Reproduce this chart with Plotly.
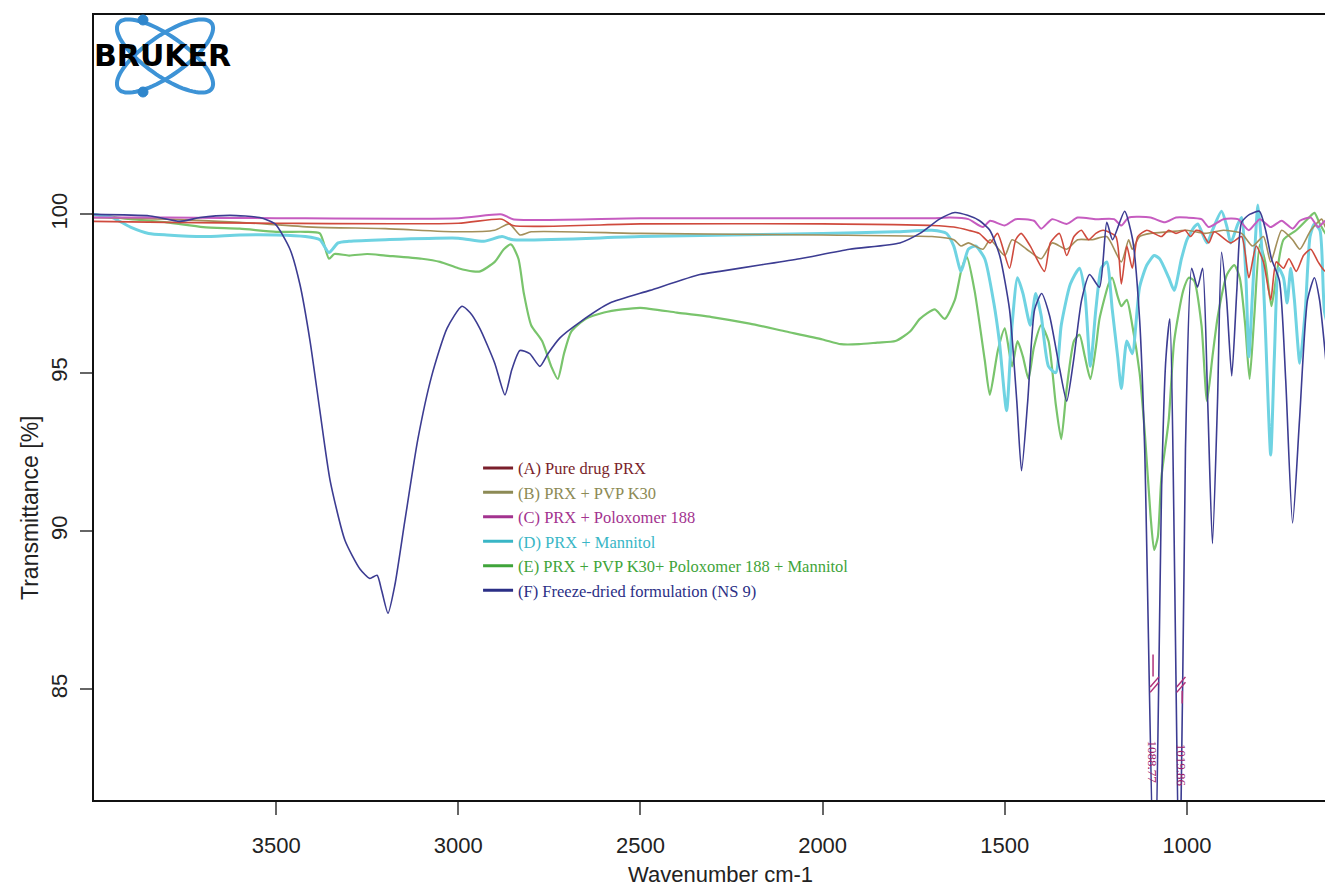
import numpy as np
import plotly.graph_objects as go

# ---------------- data (wavenumber cm-1, transmittance %) ----------------
wn_A = [4000, 3800, 3500, 3000, 2880, 2850, 2500, 2000, 1700, 1640, 1600, 1570, 1540, 1520, 1487, 1470, 1455, 1430, 1391, 1375, 1350, 1330, 1310, 1290, 1270, 1250, 1230, 1195, 1180, 1165, 1150, 1135, 1110, 1090, 1070, 1050, 1030, 1005, 990, 975, 960, 940, 925, 880, 850, 830, 810, 790, 770, 755, 735, 720, 700, 680, 660, 640, 620, 600]
T_A = [99.78, 99.75, 99.72, 99.72, 99.85, 99.65, 99.7, 99.7, 99.65, 99.6, 99.5, 99.4, 99.1, 99.4, 98.3, 99.2, 99.4, 99.0, 98.2, 99.1, 99.4, 98.7, 99.3, 99.5, 99.2, 99.4, 99.5, 99.3, 97.8, 99.0, 98.3, 99.3, 99.5, 99.4, 99.3, 99.5, 99.4, 99.5, 99.3, 99.5, 99.45, 99.1, 99.45, 99.1, 99.3, 98.0, 99.0, 98.5, 97.3, 98.5, 98.3, 98.6, 98.2, 98.7, 98.9, 98.5, 98.2, 98.4]

wn_B = [4000, 3800, 3600, 3400, 3200, 3000, 2900, 2860, 2830, 2800, 2500, 2000, 1700, 1640, 1620, 1600, 1560, 1540, 1500, 1480, 1440, 1400, 1370, 1330, 1300, 1260, 1220, 1180, 1160, 1150, 1130, 1100, 1050, 1000, 950, 900, 850, 820, 790, 770, 740, 710, 690, 660, 630, 620, 600]
T_B = [99.9, 99.85, 99.75, 99.6, 99.55, 99.45, 99.5, 99.7, 99.35, 99.45, 99.4, 99.35, 99.3, 99.2, 99.0, 99.1, 98.9, 99.2, 98.7, 99.2, 98.9, 98.6, 99.1, 98.9, 99.2, 99.2, 99.3, 98.5, 99.2, 98.9, 99.3, 99.4, 99.45, 99.5, 99.4, 99.5, 99.4, 99.0, 99.3, 98.5, 99.5, 99.2, 98.9, 99.5, 99.85, 99.6, 99.4]

wn_C = [4000, 3800, 3500, 3000, 2880, 2850, 2500, 2000, 1700, 1650, 1600, 1560, 1540, 1500, 1470, 1420, 1400, 1370, 1330, 1300, 1250, 1200, 1180, 1160, 1100, 1060, 1030, 1000, 960, 940, 900, 860, 830, 800, 770, 740, 710, 690, 660, 640, 620, 600]
T_C = [99.9, 99.9, 99.88, 99.88, 100.0, 99.85, 99.88, 99.88, 99.88, 99.9, 99.85, 99.6, 99.8, 99.65, 99.85, 99.8, 99.55, 99.85, 99.7, 99.9, 99.85, 99.85, 99.65, 99.9, 99.9, 99.75, 99.9, 99.9, 99.85, 99.6, 99.85, 99.85, 99.5, 99.85, 99.6, 99.8, 99.55, 99.8, 99.9, 99.6, 99.8, 99.8]

wn_D = [4000, 3950, 3900, 3850, 3800, 3700, 3600, 3500, 3420, 3380, 3355, 3330, 3300, 3200, 3000, 2930, 2880, 2850, 2500, 2000, 1800, 1700, 1660, 1640, 1620, 1600, 1580, 1555, 1530, 1515, 1495, 1480, 1465, 1450, 1430, 1415, 1400, 1380, 1360, 1345, 1320, 1295, 1280, 1265, 1250, 1235, 1220, 1205, 1190, 1180, 1165, 1150, 1130, 1110, 1090, 1075, 1050, 1035, 1015, 1000, 980, 970, 945, 930, 905, 890, 880, 860, 850, 838, 830, 820, 805, 795, 785, 770, 760, 748, 735, 725, 715, 705, 690, 675, 662, 650, 635, 622, 600]
T_D = [100.0, 99.9, 99.6, 99.4, 99.35, 99.3, 99.35, 99.35, 99.3, 99.2, 98.8, 99.1, 99.15, 99.2, 99.25, 99.15, 99.3, 99.2, 99.3, 99.4, 99.45, 99.5, 99.4, 99.0, 98.2, 98.9, 99.0, 98.6, 97.2, 96.0, 93.8, 96.5, 98.0, 97.5, 96.5, 97.5, 96.8, 95.2, 95.0, 96.5, 97.8, 98.3, 97.5, 95.2, 97.0, 98.3, 98.5, 97.0, 95.5, 94.5, 96.0, 95.6, 97.7, 98.4, 98.7, 98.6, 98.0, 97.6, 98.6, 99.2, 99.6, 99.7, 99.1, 99.5, 100.1, 99.6, 99.1, 99.7, 99.9, 98.0, 95.5, 97.5, 100.3, 99.0, 96.5, 92.4, 95.5, 98.3, 98.0, 97.2, 98.3, 97.3, 95.3, 97.0, 99.3, 99.7, 99.5, 96.9, 96.0]

wn_E = [4000, 3900, 3800, 3700, 3600, 3500, 3420, 3380, 3355, 3340, 3300, 3250, 3200, 3100, 3050, 3000, 2960, 2940, 2900, 2875, 2855, 2835, 2820, 2800, 2770, 2745, 2727, 2710, 2690, 2650, 2600, 2550, 2500, 2400, 2300, 2200, 2100, 2000, 1950, 1900, 1850, 1800, 1760, 1733, 1692, 1665, 1637, 1618, 1604, 1583, 1555, 1541, 1519, 1500, 1480, 1465, 1450, 1435, 1420, 1400, 1380, 1360, 1345, 1330, 1310, 1295, 1280, 1265, 1250, 1240, 1215, 1205, 1190, 1180, 1165, 1150, 1130, 1115, 1100, 1090, 1080, 1070, 1050, 1035, 1010, 995, 980, 960, 945, 930, 915, 890, 870, 855, 840, 828, 815, 800, 785, 768, 755, 735, 700, 665, 650, 635, 620, 600]
T_E = [100.0, 99.85, 99.75, 99.6, 99.55, 99.45, 99.45, 99.4, 98.6, 98.75, 98.7, 98.75, 98.7, 98.6, 98.5, 98.3, 98.2, 98.2, 98.5, 98.9, 99.05, 98.6, 97.5, 96.5, 96.0, 95.2, 94.8, 95.6, 96.3, 96.7, 96.9, 97.0, 97.05, 96.9, 96.75, 96.55, 96.3, 96.05, 95.9, 95.9, 95.95, 96.0, 96.3, 96.7, 97.0, 96.7, 97.3, 98.3, 98.65, 97.6, 95.4, 94.3, 95.7, 96.4, 95.2, 96.0, 95.5, 94.8, 95.8, 96.5, 96.0, 94.0, 92.9, 94.5, 96.0, 96.2, 95.5, 94.8, 95.8, 96.7, 97.8, 98.0, 97.4, 97.1, 97.3, 96.5, 95.0, 93.0, 90.5, 89.4, 89.8, 91.7, 93.5, 96.0, 97.6, 98.0, 97.9, 96.5, 94.1, 95.5, 96.8, 98.1, 98.4, 98.0, 96.5, 94.8, 96.8, 99.05, 98.5, 97.1, 98.0, 99.2, 99.5, 99.9, 100.05, 99.7, 99.4, 99.2]

wn_F = [4000, 3846, 3764, 3709, 3627, 3545, 3503, 3462, 3435, 3407, 3380, 3352, 3311, 3270, 3243, 3223, 3210, 3193, 3174, 3147, 3111, 3073, 3031, 2990, 2968, 2941, 2900, 2872, 2853, 2831, 2804, 2776, 2754, 2721, 2666, 2584, 2474, 2337, 2282, 2172, 2063, 1926, 1788, 1733, 1679, 1637, 1602, 1569, 1541, 1514, 1487, 1467, 1454, 1437, 1418, 1399, 1377, 1349, 1330, 1311, 1289, 1267, 1240, 1220, 1204, 1171, 1149, 1130, 1116, 1089, 1069, 1058, 1047, 1020, 1004, 987, 971, 957, 943, 930, 916, 905, 891, 877, 863, 850, 828, 801, 784, 768, 746, 729, 710, 691, 669, 650, 636, 622, 600]
T_F = [100.0, 99.95, 99.78, 99.9, 99.97, 99.9, 99.7, 98.9, 97.8, 96.0, 93.8, 91.6, 89.7, 88.8, 88.5, 88.6, 88.1, 87.4, 88.3, 90.3, 92.9, 94.9, 96.4, 97.1, 96.9, 96.4, 95.3, 94.3, 95.1, 95.7, 95.6, 95.2, 95.6, 96.1, 96.6, 97.2, 97.6, 98.1, 98.2, 98.4, 98.6, 98.9, 99.1, 99.4, 99.85, 100.06, 99.97, 99.8, 99.5, 98.7, 97.0, 94.1, 91.9, 94.1, 97.0, 97.5, 96.8, 95.1, 94.1, 95.4, 97.3, 98.1, 97.7, 99.75, 99.2, 100.1, 99.2, 96.7, 92.6, 78.0, 91.6, 95.4, 96.7, 78.0, 92.6, 98.3, 97.7, 98.3, 94.1, 89.6, 94.1, 98.8, 97.3, 94.9, 97.6, 99.75, 100.0, 100.1, 99.5, 98.6, 97.9, 94.8, 90.25, 93.5, 97.3, 98.0, 97.3, 95.8, 93.0]

series_names = ["(A) Pure drug PRX", "(B) PRX + PVP K30", "(C) PRX + Poloxomer 188",
                "(D) PRX + Mannitol", "(E) PRX + PVP K30+ Poloxomer 188 + Mannitol",
                "(F) Freeze-dried formulation (NS 9)"]
x_ticks = [3500, 3000, 2500, 2000, 1500, 1000]
y_ticks = [85, 90, 95, 100]
peak_labels = ["1088.77", "1019.86"]

# ---------------- styles ----------------
line_colors = ["#cf4a3d", "#a38f5a", "#c65cc0", "#6fd3e2", "#79c46c", "#3c3c92"]
line_widths = [1.6, 1.6, 2.0, 3.0, 2.2, 1.6]
legend_colors = ["#7a1f2b", "#8c8a55", "#a3338f", "#39b6c6", "#3fa43a", "#2b2f86"]

data = [(wn_A, T_A), (wn_B, T_B), (wn_C, T_C), (wn_D, T_D), (wn_E, T_E), (wn_F, T_F)]
draw_order = [4, 3, 1, 0, 2, 5]

fig = go.Figure()
for i in draw_order:
    x, y = data[i]
    fig.add_trace(go.Scatter(x=x, y=y, mode="lines", showlegend=False, hoverinfo="skip",
                             line=dict(color=line_colors[i], width=line_widths[i],
                                       shape="spline", smoothing=0.6)))
for i, nm in enumerate(series_names):
    fig.add_trace(go.Scatter(x=[None], y=[None], mode="lines",
                             name=f"<span style='color:{legend_colors[i]}'>{nm}</span>",
                             line=dict(color=legend_colors[i], width=3)))

# ---------------- Bruker logo (decoration) ----------------
def ellipse_path(cx, cy, a, b, ang_deg, n=80):
    t = np.linspace(0, 2 * np.pi, n)
    ang = np.deg2rad(ang_deg)
    xs = cx + a * np.cos(t) * np.cos(ang) - b * np.sin(t) * np.sin(ang)
    ys = cy + a * np.cos(t) * np.sin(ang) + b * np.sin(t) * np.cos(ang)
    return "M " + " L ".join(f"{px:.1f},{py:.1f}" for px, py in zip(xs, ys)) + " Z"

shapes = []
for ang in (-35, 35):
    shapes.append(dict(type="path", xref="paper", yref="paper", xsizemode="pixel", ysizemode="pixel",
                       xanchor=0, yanchor=1, path=ellipse_path(71, -41, 57, 20, ang),
                       line=dict(color="#3d93d6", width=4)))
for (dx, dy) in ((49, -5), (49, -77)):
    shapes.append(dict(type="circle", xref="paper", yref="paper", xsizemode="pixel", ysizemode="pixel",
                       xanchor=0, yanchor=1, x0=dx - 5, x1=dx + 5, y0=dy - 5, y1=dy + 5,
                       fillcolor="#2f86cc", line=dict(color="#2f86cc", width=1)))

# break marks near the two off-scale peaks
for xc, yc in ((1089, 85.1), (1016, 85.1)):
    for off in (0.0, 0.17):
        shapes.append(dict(type="line", xref="x", yref="y", x0=xc + 12, y0=yc - 0.2 + off,
                           x1=xc - 12, y1=yc + 0.12 + off, line=dict(color="#b0307a", width=1.5)))
shapes.append(dict(type="line", xref="x", yref="y", x0=1093, x1=1093, y0=85.4, y1=86.1,
                   line=dict(color="#b0307a", width=1.5)))
shapes.append(dict(type="line", xref="x", yref="y", x0=1013, x1=1013, y0=84.55, y1=84.95,
                   line=dict(color="#b0307a", width=1.5)))

axis_font = dict(family="Liberation Sans", size=22, color="#222222")
title_font = dict(family="Liberation Sans", size=22, color="#222222")

annotations = [
    dict(text="<b>BRUKER</b>", xref="paper", yref="paper", x=0.0555, y=0.948, showarrow=False,
         font=dict(family="DejaVu Sans", size=30, color="#000000"), xanchor="center", yanchor="middle"),
    dict(text=peak_labels[0], xref="x", yref="y", x=1092, y=82.7, showarrow=False, textangle=90,
         font=dict(family="Liberation Serif", size=13, color="#a0206a")),
    dict(text=peak_labels[1], xref="x", yref="y", x=1015, y=82.6, showarrow=False, textangle=90,
         font=dict(family="Liberation Serif", size=13, color="#a0206a")),
    dict(text="Wavenumber cm-1", xref="paper", yref="paper", x=(720 - 94) / 1231, y=(800 - 874) / 785,
         showarrow=False, xanchor="center", yanchor="middle", font=title_font),
    dict(text="Transmittance [%]", xref="paper", yref="paper", x=(30 - 94) / 1231, y=(800 - 508) / 785,
         showarrow=False, xanchor="center", yanchor="middle", textangle=-90,
         font=dict(family="Liberation Sans", size=23, color="#222222")),
]

fig.update_layout(
    width=1325, height=891, autosize=False,
    margin=dict(l=94, r=0, t=15, b=91),
    paper_bgcolor="white", plot_bgcolor="white",
    shapes=shapes, annotations=annotations,
    showlegend=True,
    legend=dict(x=0.312, y=0.445, xanchor="left", yanchor="top", bgcolor="rgba(0,0,0,0)",
                font=dict(family="Liberation Serif", size=16.5), itemwidth=30,
                tracegroupgap=0),
    xaxis=dict(range=[4000, 621], tickvals=x_ticks, ticktext=[str(v) for v in x_ticks],
               ticks="outside", ticklen=13, tickwidth=1.5, tickcolor="#666666",
               ticklabelstandoff=12,
               showline=True, linecolor="#111111", linewidth=2, mirror=True,
               showgrid=False, zeroline=False, tickfont=axis_font),
    yaxis=dict(range=[81.5, 106.3], tickvals=y_ticks, ticktext=[str(v) for v in y_ticks],
               tickangle=-90, ticks="outside", ticklen=12, tickwidth=1.5, tickcolor="#666666",
               ticklabelstandoff=4,
               showline=True, linecolor="#111111", linewidth=2, mirror=False,
               showgrid=False, zeroline=False, tickfont=axis_font),
)

fig.write_html("out.html")
